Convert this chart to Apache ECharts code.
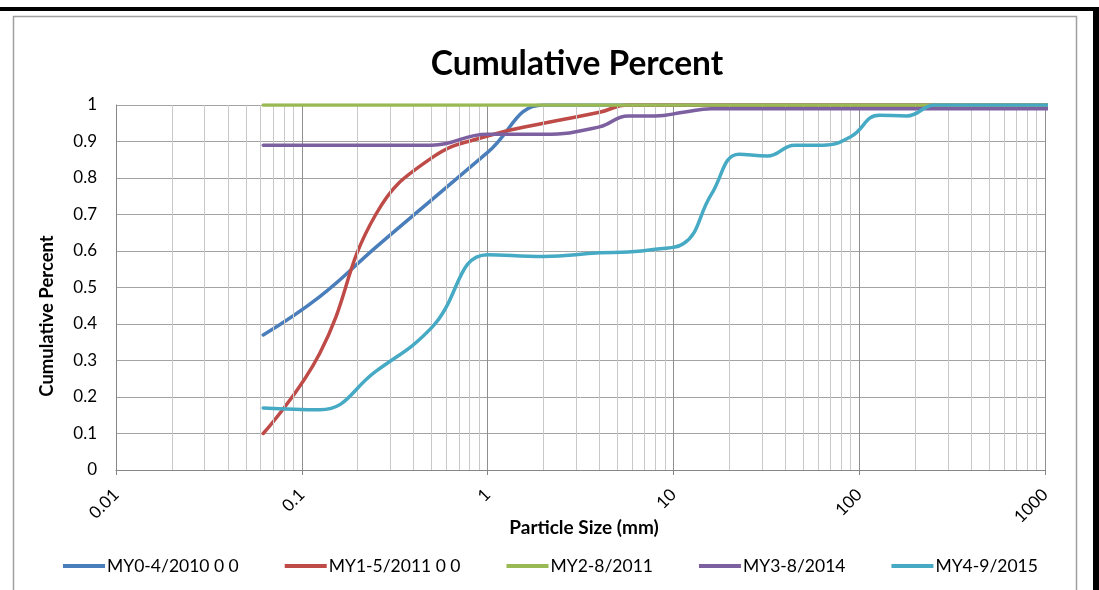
<!DOCTYPE html>
<html>
<head>
<meta charset="utf-8">
<title>Cumulative Percent</title>
<script src="https://cdn.jsdelivr.net/npm/echarts@6/dist/echarts.min.js"></script>
<style>
  html, body { margin: 0; padding: 0; background: #ffffff; }
  #chart { width: 1099px; height: 590px; }
</style>
</head>
<body>
<div id="chart"></div>
<script>
// Pebble count size classes (upper bound of each class, mm)
const particleSizes = [0.062, 0.125, 0.25, 0.5, 1, 2, 4, 5.7, 8, 11.3, 16, 22.6, 32, 45, 64, 90, 128, 180, 256, 362, 512, 1024, 2048];

// Cumulative fraction finer than each size, per monitoring year
const my0 = [0.37, 0.475, 0.61, 0.74, 0.87, 1.0, 1.0, 1.0, 1.0, 1.0, 1.0, 1.0, 1.0, 1.0, 1.0, 1.0, 1.0, 1.0, 1.0, 1.0, 1.0, 1.0, 1.0];
const my1 = [0.10, 0.32, 0.70, 0.855, 0.915, 0.95, 0.98, 1.0, 1.0, 1.0, 1.0, 1.0, 1.0, 1.0, 1.0, 1.0, 1.0, 1.0, 1.0, 1.0, 1.0, 1.0, 1.0];
const my2 = [1.0, 1.0, 1.0, 1.0, 1.0, 1.0, 1.0, 1.0, 1.0, 1.0, 1.0, 1.0, 1.0, 1.0, 1.0, 1.0, 1.0, 1.0, 1.0, 1.0, 1.0, 1.0, 1.0];
const my3 = [0.89, 0.89, 0.89, 0.89, 0.92, 0.92, 0.94, 0.97, 0.97, 0.98, 0.99, 0.99, 0.99, 0.99, 0.99, 0.99, 0.99, 0.99, 0.99, 0.99, 0.99, 0.99, 0.99];
const my4 = [0.17, 0.165, 0.27, 0.39, 0.59, 0.585, 0.595, 0.597, 0.605, 0.62, 0.755, 0.865, 0.86, 0.89, 0.89, 0.913, 0.972, 0.97, 1.0, 1.0, 1.0, 1.0, 1.0];

const seriesNames = ['MY0-4/2010 0 0', 'MY1-5/2011 0 0', 'MY2-8/2011', 'MY3-8/2014', 'MY4-9/2015'];
const seriesColors = ['#4A7EBB', '#BE4B48', '#98B954', '#7D60A0', '#46AAC5'];

const xTickLabels = ['0.01', '0.1', '1', '10', '100', '1000'];
const yTickLabels = ['0', '0.1', '0.2', '0.3', '0.4', '0.5', '0.6', '0.7', '0.8', '0.9', '1'];

const FONT = 'Lato, "Open Sans", sans-serif';

// Minor vertical grid lines at 2..9 within each decade
const decades = [0.01, 0.1, 1, 10, 100];
const minorGrid = [];
decades.forEach(d => {
  for (let m = 2; m <= 9; m++) minorGrid.push({ xAxis: +(m * d).toPrecision(3) });
});

const allSeries = [my0, my1, my2, my3, my4];

const lineSeries = allSeries.map((vals, i) => ({
  name: seriesNames[i],
  type: 'line',
  data: particleSizes.map((s, k) => [s, vals[k]]),
  smooth: 0.45,
  showSymbol: false,
  symbol: 'none',
  clip: true,
  z: 3 + i,
  lineStyle: { width: 3.5, color: seriesColors[i], cap: 'round' },
  itemStyle: { color: seriesColors[i] },
  animation: false
}));

const gridSeries = {
  name: 'minor-grid',
  type: 'line',
  data: [],
  z: 1,
  silent: true,
  animation: false,
  markLine: {
    silent: true,
    symbol: ['none', 'none'],
    label: { show: false },
    animation: false,
    lineStyle: { type: 'solid', color: '#c9c9c9', width: 1 },
    data: minorGrid
  }
};

const chart = echarts.init(document.getElementById('chart'), null, { renderer: 'canvas' });

chart.setOption({
  backgroundColor: '#ffffff',
  animation: false,
  title: {
    text: 'Cumulative Percent',
    left: 572,
    top: 42,
    textAlign: 'center',
    textStyle: { fontFamily: FONT, fontWeight: 'bold', fontSize: 33.5, color: '#000000' }
  },
  grid: { left: 116, top: 105, width: 929, height: 365, containLabel: false },
  xAxis: {
    type: 'log',
    logBase: 10,
    min: 0.01,
    max: 1000,
    axisLine: { show: true, lineStyle: { color: '#868686', width: 1 } },
    axisTick: { show: true, length: 5, lineStyle: { color: '#868686' } },
    splitLine: { show: true, lineStyle: { color: '#8f8f8f', width: 1 } },
    minorTick: { show: false },
    minorSplitLine: { show: false },
    axisLabel: {
      rotate: 45,
      margin: 22,
      fontFamily: FONT,
      fontSize: 17,
      color: '#000000',
      formatter: (v, idx) => xTickLabels[idx]
    }
  },
  yAxis: {
    type: 'value',
    min: 0,
    max: 1,
    interval: 0.1,
    axisLine: { show: true, lineStyle: { color: '#868686', width: 1 } },
    axisTick: { show: false },
    splitLine: { show: true, lineStyle: { color: '#a3a3a3', width: 1 } },
    axisLabel: {
      margin: 19,
      fontFamily: FONT,
      fontSize: 17,
      color: '#000000',
      formatter: (v, idx) => yTickLabels[idx]
    }
  },
  legend: {
    data: seriesNames,
    left: 58,
    top: 552,
    itemWidth: 42,
    itemHeight: 14,
    itemGap: 46,
    icon: 'path://M0,5.5 L42,5.5 L42,9.5 L0,9.5 Z',
    textStyle: { fontFamily: FONT, fontSize: 17.5, color: '#000000', padding: [0, 0, 0, -3] }
  },
  graphic: [
    // outer frame
    { type: 'rect', shape: { x: 0, y: 7, width: 1099, height: 4 }, style: { fill: '#000000' }, silent: true },
    { type: 'rect', shape: { x: 1093, y: 7, width: 6, height: 583 }, style: { fill: '#000000' }, silent: true },
    { type: 'polyline', shape: { points: [[13.5, 600], [13.5, 16.5], [1076.5, 16.5], [1076.5, 600]] },
      style: { stroke: '#a0a0a0', lineWidth: 1.5, fill: null }, silent: true },
    // axis titles
    { type: 'text', x: 47, y: 316, rotation: Math.PI / 2,
      style: { text: 'Cumulative Percent', fontFamily: FONT, fontWeight: 'bold', fontSize: 18.5,
               fill: '#000000', align: 'center', verticalAlign: 'middle' }, silent: true },
    { type: 'text', x: 584, y: 528,
      style: { text: 'Particle Size (mm)', fontFamily: FONT, fontWeight: 'bold', fontSize: 19,
               fill: '#000000', align: 'center', verticalAlign: 'middle' }, silent: true }
  ],
  series: [gridSeries].concat(lineSeries)
});
</script>
</body>
</html>
